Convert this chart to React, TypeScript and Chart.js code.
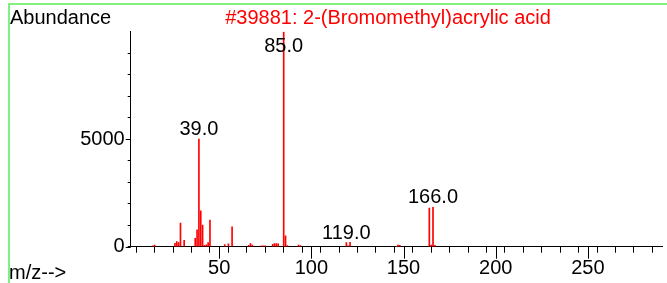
import React, { useEffect, useRef } from 'react';
import { Chart, registerables } from 'chart.js';

Chart.register(...registerables);

const mzValues = [14, 15, 26, 27, 28, 29, 31, 37, 38, 39, 40, 41, 42, 43, 44, 45, 53, 55, 57, 66, 67, 68, 73, 74, 75, 79, 80, 81, 82, 85, 86, 87, 93, 94, 119, 120, 121, 147, 148, 164, 165, 166, 167];
const abundanceValues = [40, 80, 160, 240, 190, 1100, 300, 390, 780, 5000, 1670, 1000, 60, 90, 190, 1240, 95, 130, 930, 60, 150, 70, 40, 40, 40, 110, 150, 140, 130, 9999, 500, 50, 70, 50, 190, 40, 200, 80, 60, 1800, 80, 1830, 60];
const labeledPeaks = [39, 85, 119, 166];

const xTickValues = [10, 20, 30, 40, 50, 60, 70, 80, 90, 100, 110, 120, 130, 140, 150, 160, 170, 180, 190, 200, 210, 220, 230, 240, 250, 260, 270, 280, 290];
const xLabelValues = [50, 100, 150, 200, 250];
const yTickValues = [0, 1000, 2000, 3000, 4000, 5000, 6000, 7000, 8000, 9000];
const yLabelValues = [0, 5000];

const titleText = '#39881: 2-(Bromomethyl)acrylic acid';
const yAxisTitle = 'Abundance';
const xAxisTitle = 'm/z-->';

const FONT = '"Liberation Sans", Arial, sans-serif';

const annotate = {
  id: 'annotate',
  afterDraw(chart: any) {
    const { ctx } = chart;
    const x = chart.scales.x;
    const y = chart.scales.y;
    ctx.save();
    ctx.strokeStyle = '#000';
    ctx.lineWidth = 1;
    xLabelValues.forEach((v) => {
      const px = Math.round(x.getPixelForValue(v)) + 0.5;
      ctx.beginPath();
      ctx.moveTo(px, y.bottom);
      ctx.lineTo(px, y.bottom + 12);
      ctx.stroke();
    });
    yLabelValues.forEach((v) => {
      const py = Math.round(y.getPixelForValue(v)) + 0.5;
      ctx.beginPath();
      ctx.moveTo(x.left - 5, py);
      ctx.lineTo(x.left, py);
      ctx.stroke();
    });
    ctx.font = `20px ${FONT}`;
    ctx.fillStyle = '#000';
    ctx.textAlign = 'center';
    ctx.textBaseline = 'alphabetic';
    labeledPeaks.forEach((m) => {
      const i = mzValues.indexOf(m);
      const top = y.getPixelForValue(abundanceValues[i]);
      const base = Math.max(top - 4, 52);
      ctx.fillText(m.toFixed(1), x.getPixelForValue(m), base);
    });
    ctx.textAlign = 'left';
    ctx.fillText(yAxisTitle, 10, 24);
    ctx.fillText(xAxisTitle, 9, 279);
    ctx.fillStyle = '#ff0000';
    ctx.textAlign = 'center';
    ctx.fillText(titleText, 388, 24);
    ctx.restore();
  },
};

export default function App() {
  const ref = useRef<HTMLCanvasElement>(null);
  useEffect(() => {
    if (!ref.current) return;
    Chart.defaults.font.family = FONT;
    const chart = new Chart(ref.current, {
      type: 'bar',
      data: {
        datasets: [
          {
            data: mzValues.map((m, i) => ({ x: m, y: abundanceValues[i] })),
            backgroundColor: '#ff0000',
            borderWidth: 0,
            barThickness: 1,
          },
        ],
      },
      options: {
        responsive: false,
        animation: false,
        events: [],
        layout: { padding: { top: 31.7, right: 4.3, left: 0, bottom: 0 } },
        plugins: { legend: { display: false }, tooltip: { enabled: false }, title: { display: false } },
        scales: {
          x: {
            type: 'linear',
            min: 2,
            max: 290.6,
            offset: false,
            grid: { drawOnChartArea: false, color: '#000', tickLength: 6 },
            border: { color: '#000', width: 1 },
            ticks: {
              autoSkip: false,
              maxRotation: 0,
              padding: 4,
              color: '#000',
              font: { size: 20 },
              callback: (v: any) => (xLabelValues.includes(Number(v)) ? String(v) : ''),
            },
            afterBuildTicks: (s: any) => {
              s.ticks = xTickValues.map((v) => ({ value: v }));
            },
            afterFit: (s: any) => {
              s.height = 36.3;
            },
          },
          y: {
            type: 'linear',
            min: 0,
            max: 10000,
            grid: { drawOnChartArea: false, color: '#000', tickLength: 3 },
            border: { color: '#000', width: 1 },
            ticks: {
              autoSkip: false,
              padding: 3,
              color: '#000',
              font: { size: 20 },
              callback: (v: any) => (yLabelValues.includes(Number(v)) ? String(v) : ''),
            },
            afterBuildTicks: (s: any) => {
              s.ticks = yTickValues.map((v) => ({ value: v }));
            },
            afterFit: (s: any) => {
              s.width = 130.7;
            },
          },
        },
      },
      plugins: [annotate],
    } as any);
    return () => chart.destroy();
  }, []);
  return (
    <div style={{ position: 'fixed', left: 0, top: 0, width: 667, height: 283, background: '#fff' }}>
      <canvas ref={ref} width={667} height={283} style={{ position: 'absolute', left: 0, top: 0, display: 'block' }} />
      <div style={{ position: 'absolute', left: 8, top: 3, width: 659, height: 2, background: '#80f080' }} />
      <div style={{ position: 'absolute', left: 8, top: 3, width: 2, height: 280, background: '#80f080' }} />
    </div>
  );
}
